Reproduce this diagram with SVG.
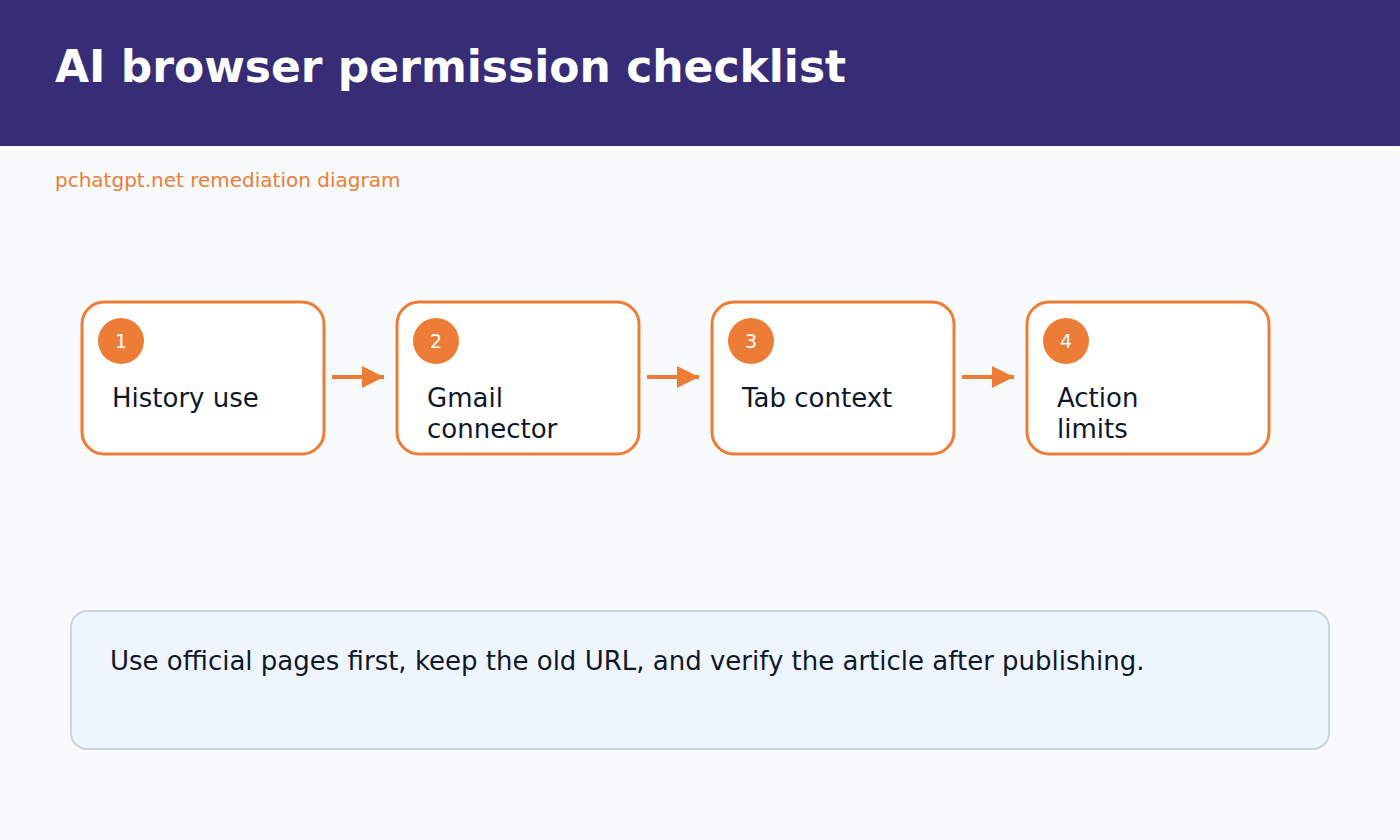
<svg xmlns="http://www.w3.org/2000/svg" width="1400" height="840" viewBox="0 0 1400 840">
<defs>
<style>
.node rect{fill:#ffffff;stroke:#ed7d36;stroke-width:3}
.node circle{fill:#ed7d36}
.num{font-family:"DejaVu Sans",sans-serif;font-size:19px;fill:#ffffff;text-anchor:middle}
.lbl{font-family:"DejaVu Sans",sans-serif;font-size:26px;fill:#0f172a}
.conn line{stroke:#ed7d36;stroke-width:4}
</style>
<marker id="ah" viewBox="0 0 10 10" refX="10" refY="5" markerWidth="5.5" markerHeight="6.5" markerUnits="strokeWidth" orient="auto">
<path d="M0,0 L10,5 L0,10 Z" fill="#ed7d36"/>
</marker>
</defs>
<rect x="0" y="0" width="1400" height="840" fill="#f8fafc"/>
<rect x="0" y="0" width="1400" height="146" fill="#372d77"/>
<text x="55" y="82" font-family="DejaVu Sans,sans-serif" font-weight="bold" font-size="44" fill="#ffffff">AI browser permission checklist</text>
<text x="55" y="187" font-family="DejaVu Sans,sans-serif" font-size="20" fill="#ed7d36">pchatgpt.net remediation diagram</text>
<g class="conn">
<line x1="332" y1="377" x2="384" y2="377" marker-end="url(#ah)"/>
<line x1="647" y1="377" x2="699" y2="377" marker-end="url(#ah)"/>
<line x1="962" y1="377" x2="1014" y2="377" marker-end="url(#ah)"/>
</g>
<g id="node1" class="node">
<rect x="82" y="302" width="242" height="152" rx="22"/>
<circle cx="121" cy="341" r="23"/>
<text class="num" x="121" y="348">1</text>
<text class="lbl" x="112" y="407">History use</text>
</g>
<g id="node2" class="node">
<rect x="397" y="302" width="242" height="152" rx="22"/>
<circle cx="436" cy="341" r="23"/>
<text class="num" x="436" y="348">2</text>
<text class="lbl" x="427" y="407">Gmail</text>
<text class="lbl" x="427" y="438">connector</text>
</g>
<g id="node3" class="node">
<rect x="712" y="302" width="242" height="152" rx="22"/>
<circle cx="751" cy="341" r="23"/>
<text class="num" x="751" y="348">3</text>
<text class="lbl" x="742" y="407">Tab context</text>
</g>
<g id="node4" class="node">
<rect x="1027" y="302" width="242" height="152" rx="22"/>
<circle cx="1066" cy="341" r="23"/>
<text class="num" x="1066" y="348">4</text>
<text class="lbl" x="1057" y="407">Action</text>
<text class="lbl" x="1057" y="438">limits</text>
</g>
<g id="note">
<rect x="71" y="611" width="1258" height="138" rx="16" fill="#eef5ff" stroke="#cbd5e1" stroke-width="2"/>
<text class="lbl" x="110" y="670">Use official pages first, keep the old URL, and verify the article after publishing.</text>
</g>
</svg>
